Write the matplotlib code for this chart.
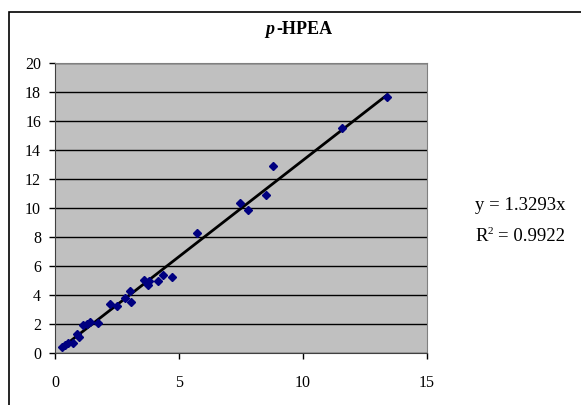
import matplotlib
matplotlib.use("Agg")
import matplotlib.pyplot as plt
import numpy as np
from matplotlib.patches import Rectangle

x_vals = [0.30, 0.40, 0.52, 0.72, 0.88, 0.97, 1.13, 1.31, 1.43, 1.73,
          2.21, 2.49, 2.82, 3.02, 3.05, 3.57, 3.77, 3.81, 4.16, 4.37,
          4.73, 5.71, 7.44, 7.77, 8.51, 8.80, 11.59, 13.40]
y_vals = [0.42, 0.55, 0.70, 0.68, 1.33, 1.10, 1.90, 1.98, 2.14, 2.08,
          3.38, 3.23, 3.78, 4.30, 3.55, 5.02, 4.67, 4.97, 4.96, 5.37,
          5.26, 8.30, 10.32, 9.87, 10.88, 12.92, 15.54, 17.63]
slope = 1.3293
r2 = 0.9922

x_ticks = [0, 5, 10, 15]
y_ticks = [0, 2, 4, 6, 8, 10, 12, 14, 16, 18, 20]

plt.rcParams['font.family'] = 'Liberation Serif'

fig = plt.figure(figsize=(5.81, 4.05), dpi=100)
fig.patches.append(Rectangle((9 / 581, -0.1), 1.2, 1 - 12 / 405 + 0.1,
                             transform=fig.transFigure, fill=False,
                             edgecolor='black', linewidth=1.2))

ax = fig.add_axes([55 / 581, 1 - 353 / 405, (427 - 55) / 581, (353 - 63) / 405])
ax.set_facecolor('#C0C0C0')
ax.set_xlim(0, 15)
ax.set_ylim(0, 20)
ax.set_xticks(x_ticks)
ax.set_yticks(y_ticks)
ax.yaxis.grid(True, color='black', linewidth=1.0)
ax.set_axisbelow(True)
for s in ['top', 'right']:
    ax.spines[s].set_color('#808080')
for s in ['left', 'bottom']:
    ax.spines[s].set_color('#404040')
ax.tick_params(direction='out', length=4, width=1, labelsize=11.5, colors='black')
ax.tick_params(axis='x', pad=12)
ax.tick_params(axis='y', pad=6)

xs = np.array([min(x_vals), max(x_vals)])
ax.plot(xs, slope * xs, color='black', linewidth=2, zorder=3)
ax.plot(x_vals, y_vals, linestyle='none', marker='D', markersize=4.2,
        color='#000080', zorder=4)

fig.text(274 / 581, 1 - 30 / 405, 'p', fontsize=13, fontweight='bold',
         style='italic', ha='right', va='center')
fig.text(276 / 581, 1 - 30 / 405, '-HPEA', fontsize=13, fontweight='bold',
         ha='left', va='center')

fig.text(475 / 581, 1 - 206 / 405, 'y = %.4fx' % slope, fontsize=13.5,
         ha='left', va='center')
fig.text(475 / 581, 1 - 237 / 405, 'R', fontsize=13.5, ha='left', va='center')
fig.text(487.5 / 581, 1 - 227 / 405, '2', fontsize=8, ha='left', va='top')
fig.text(497.5 / 581, 1 - 237 / 405, '= %.4f' % r2, fontsize=13.5,
         ha='left', va='center')

fig.savefig('out.png', dpi=100)
